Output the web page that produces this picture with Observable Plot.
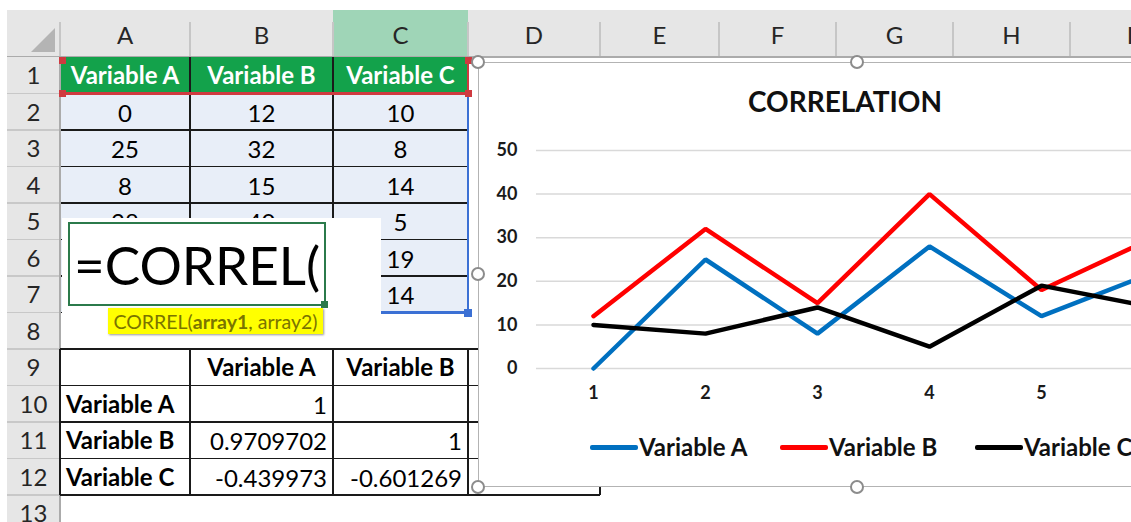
<!DOCTYPE html>
<html><head><meta charset="utf-8">
<script src="https://cdn.jsdelivr.net/npm/d3@7"></script>
<script src="https://cdn.jsdelivr.net/npm/@observablehq/plot@0.6"></script>
<style>
html,body{margin:0;padding:0;width:1131px;height:522px;overflow:hidden;background:#fff;font-family:Lato,"Open Sans",sans-serif;}
#page{position:absolute;left:0;top:0;width:1131px;height:522px;overflow:hidden;}
.b{position:absolute;box-sizing:border-box;}
.t{position:absolute;box-sizing:border-box;display:flex;align-items:center;white-space:nowrap;font-size:24px;color:#000;line-height:1;}
</style></head><body>
<div id="page"></div>
<script>
// ---------- data ----------
const categories = [1, 2, 3, 4, 5, 6];
const variableA = [0, 25, 8, 28, 12, 22];
const variableB = [12, 32, 15, 40, 18, 30];
const variableC = [10, 8, 14, 5, 19, 14];
const seriesNames = ["Variable A", "Variable B", "Variable C"];
const seriesColors = ["#0070C0", "#FF0000", "#000000"];
const yTicks = [0, 10, 20, 30, 40, 50];
const chartTitle = "CORRELATION";
const columnLetters = ["A", "B", "C", "D", "E", "F", "G", "H", "I"];
const rowNumbers = [1, 2, 3, 4, 5, 6, 7, 8, 9, 10, 11, 12, 13];
const corrRowLabels = ["Variable A", "Variable B", "Variable C"];
const corrColLabels = ["Variable A", "Variable B"];
const corrValues = [["1", ""], ["0.9709702", "1"], ["-0.439973", "-0.601269"]];
const formulaText = "=CORREL(";
const tooltipParts = ["CORREL(", "array1", ", array2)"];

// ---------- layout ----------
const page = document.getElementById("page");
const colEdges = [7, 60, 190, 333, 468, 600, 719, 836, 953, 1070, 1190];
const headTop = 10, headBottom = 57, rowH = 36.5;
const rowTop = r => headBottom + (r - 1) * rowH; // r = 1-based row
function box(x, y, w, h, css, parent) {
  const d = document.createElement("div"); d.className = "b";
  Object.assign(d.style, {left: x + "px", top: y + "px", width: w + "px", height: h + "px"}, css || {});
  (parent || page).appendChild(d); return d;
}
function txt(x, y, w, h, s, css, align, parent) {
  const d = document.createElement("div"); d.className = "t";
  Object.assign(d.style, {left: x + "px", top: y + "px", width: w + "px", height: h + "px",
    justifyContent: align || "center"}, css || {});
  d.textContent = s; (parent || page).appendChild(d); return d;
}
const hline = (x1, x2, y, c, w) => box(x1, y - w / 2, x2 - x1, w, {background: c});
const vline = (x, y1, y2, c, w) => box(x - w / 2, y1, w, y2 - y1, {background: c});

// column header bar
box(7, headTop, 1131 - 7, headBottom - headTop, {background: "#e6e6e6"});
box(colEdges[3], headTop, colEdges[4] - colEdges[3], headBottom - headTop, {background: "#9fd5b7"});
columnLetters.forEach((L, i) => {
  const x0 = colEdges[i + 1], x1 = colEdges[i + 2];
  txt(x0, headTop + 2, x1 - x0, headBottom - headTop - 2, L, {color: "#262626"});
  vline(x1, headTop + 12, headBottom, "#c6c6c6", 1.5);
});
vline(60, headTop + 12, headBottom, "#c6c6c6", 1.5);
hline(7, 1131, headBottom, "#ababab", 1.5);
// corner triangle
box(31, 28, 24, 24, {background: "#b4b4b4", clipPath: "polygon(100% 0, 100% 100%, 0 100%)"});

// row header
box(7, headBottom, 53, 522 - headBottom, {background: "#e6e6e6"});
rowNumbers.forEach(r => {
  txt(7, rowTop(r), 53, rowH, String(r), {color: "#262626"});
  hline(7, 60, rowTop(r) + rowH, "#c8c8c8", 1.2);
});
vline(60, headBottom, 522, "#ababab", 1.5);

// data range A1:C7 (the formula box hides A5:B7; only the tops of row 5 peek out)
const overlayTop = 218;
const series = [variableA, variableB, variableC];
for (let c = 0; c < 3; c++) {
  const x0 = colEdges[c + 1], x1 = colEdges[c + 2];
  box(x0 + 1, rowTop(1), x1 - x0, rowH, {background: "#13a24b"});
  txt(x0, rowTop(1), x1 - x0, rowH, seriesNames[c], {color: "#fff", fontWeight: "bold"});
  box(x0 + 1, rowTop(2), x1 - x0, rowH * 6, {background: "#e8eef8"});
  series[c].forEach((v, i) => {
    const r = i + 2;
    if (c < 2 && r >= 6) return;
    if (c < 2 && r === 5) {
      const clip = box(x0, rowTop(r), x1 - x0, overlayTop - rowTop(r), {overflow: "hidden"});
      txt(0, 1, x1 - x0, rowH, String(v), {}, "center", clip);
      return;
    }
    txt(x0, rowTop(r) + 1, x1 - x0, rowH, String(v));
  });
}
for (let r = 2; r <= 7; r++) hline(61, 468, rowTop(r) + rowH, "#1a1a1a", 1.5);
[190, 333].forEach(x => vline(x, rowTop(1), rowTop(8), "#1a1a1a", 1.5));
// red series-name outline
const red = "#cf3a40";
hline(61, 469, rowTop(2), red, 2.5);
vline(468, rowTop(1), rowTop(2), red, 2.5);
[[62, rowTop(1) + 3], [468, rowTop(1) + 3], [62, rowTop(2)], [468, rowTop(2)]].forEach(([x, y]) =>
  box(x - 3.5, y - 3.5, 7, 7, {background: red}));
// blue values outline
const blue = "#3b70d4";
vline(468, rowTop(2) + 3, rowTop(8), blue, 2.5);
hline(380, 469, rowTop(8), blue, 2.5);
box(464, rowTop(8) - 4, 8, 8, {background: blue});

// correlation table rows 9-12
const tTop = rowTop(9), tBot = rowTop(13);
for (let r = 9; r <= 13; r++) hline(60, 600, rowTop(r), "#1a1a1a", 1.5);
[60, 190, 333, 468, 600].forEach(x => vline(x, tTop, tBot, "#1a1a1a", 1.5));
corrColLabels.forEach((s, c) => txt(colEdges[c + 2], tTop, colEdges[c + 3] - colEdges[c + 2], rowH, s, {fontWeight: "bold"}));
corrRowLabels.forEach((s, r) => {
  txt(colEdges[1] + 6, rowTop(10 + r), 124, rowH, s, {fontWeight: "bold"}, "flex-start");
  corrValues[r].forEach((v, c) => { if (v) txt(colEdges[c + 2], rowTop(10 + r) + 1, colEdges[c + 3] - colEdges[c + 2] - 6, rowH, v, {}, "flex-end"); });
});

// formula edit overlay
box(62, overlayTop, 319, 96, {background: "#fff"});
box(68, 222, 258, 84, {border: "2px solid #2b7a4b"});
box(321, 301, 7, 7, {background: "#2b7a4b"});
txt(74, 226, 250, 76, formulaText, {fontSize: "53px", color: "#000"}, "flex-start");
const tip = box(108, 308, 215, 26, {background: "#ffff00", boxShadow: "1px 1px 2px #999", display: "flex", alignItems: "center", justifyContent: "center", fontSize: "19.5px", color: "#7a7400", whiteSpace: "nowrap"});
tip.innerHTML = `${tooltipParts[0]}<b>${tooltipParts[1]}</b>${tooltipParts[2]}`;

// ---------- chart ----------
const chartL = 478, chartT = 62, chartW = 758, chartH = 425;
box(chartL, chartT, chartW, chartH, {background: "#fff", border: "1.5px solid #b3b3b3"});
txt(chartL, 85, 734, 32, chartTitle, {fontWeight: "bold", fontSize: "28px", color: "#111"});

const data = categories.flatMap((cat, i) => seriesNames.map((s, j) => ({cat, series: s, value: series[j][i]})));
const plotTop = 130;
const chart = Plot.plot({
  width: chartW, height: 290,
  marginLeft: 58, marginRight: 26, marginTop: 20, marginBottom: 52,
  x: {type: "point", domain: categories, padding: 0.5, label: null},
  y: {domain: [0, 50], label: null},
  color: {domain: seriesNames, range: seriesColors},
  style: {fontFamily: "Lato, sans-serif", fontSize: "18px", fontWeight: "bold", color: "#1a1a1a", background: "transparent", overflow: "visible"},
  marks: [
    Plot.gridY(yTicks, {stroke: "#d9d9d9", strokeOpacity: 1, strokeWidth: 1.5}),
    Plot.axisY(yTicks, {tickSize: 0, tickPadding: 19, fontSize: 18, fontWeight: "bold", label: null}),
    Plot.axisX(categories, {tickSize: 0, tickPadding: 18, fontSize: 18, fontWeight: "bold", label: null}),
    Plot.line(data, {x: "cat", y: "value", z: "series", stroke: "series", strokeWidth: 4.5, strokeLinejoin: "miter"})
  ]
});
const holder = box(chartL, plotTop, chartW, 290, {});
holder.appendChild(chart);

// legend
const legendX = [590, 780, 975];
seriesNames.forEach((s, i) => {
  box(legendX[i], 445, 48, 4.5, {background: seriesColors[i], borderRadius: "2px"});
  txt(legendX[i] + 49, 433, 130, 28, s, {fontWeight: "bold", fontSize: "24px", color: "#111"}, "flex-start");
});

// selection handles
[[478, 62], [857, 62], [478, 274], [478, 487], [857, 487]].forEach(([x, y]) =>
  box(x - 7, y - 7, 14, 14, {background: "#fff", border: "2px solid #8c8c8c", borderRadius: "50%"}));
</script>
</body></html>
